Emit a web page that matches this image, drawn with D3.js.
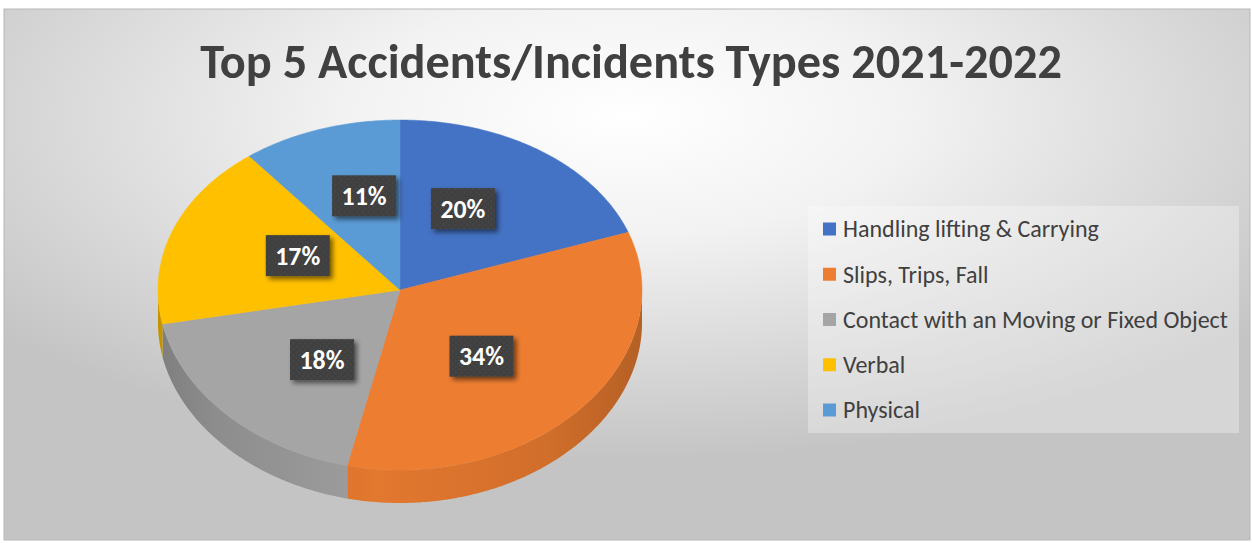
<!DOCTYPE html>
<html>
<head>
<meta charset="utf-8">
<script src="https://cdn.jsdelivr.net/npm/d3@7"></script>
<style>
  html, body { margin: 0; padding: 0; background: #fff; }
</style>
</head>
<body>
<svg id="chart" width="1252" height="543"></svg>
<script>
const title = "Top 5 Accidents/Incidents Types 2021-2022";
const categories = [
  "Handling lifting & Carrying",
  "Slips, Trips, Fall",
  "Contact with an Moving or Fixed Object",
  "Verbal",
  "Physical",
];
// shares in percent, estimated from the slice boundaries
const values = [19.6, 33.9, 18.4, 17.4, 10.7];
const colors = ["#4472c4", "#ed7d31", "#a5a5a5", "#ffc000", "#5b9bd5"];

const font = "Carlito, Lato, 'Open Sans', sans-serif";

const svg = d3.select("#chart");
const defs = svg.append("defs");

// background gradient
const bg = defs.append("radialGradient")
  .attr("id", "bg")
  .attr("cx", 0.5).attr("cy", 0.2).attr("r", 0.65);
bg.append("stop").attr("offset", 0).attr("stop-color", "#ffffff");
bg.append("stop").attr("offset", 0.35).attr("stop-color", "#f2f2f2");
bg.append("stop").attr("offset", 1).attr("stop-color", "#c4c4c4");

svg.append("rect")
  .attr("x", 4).attr("y", 9)
  .attr("width", 1246).attr("height", 531)
  .attr("fill", "url(#bg)")
  .attr("stroke", "#b8b8b8")
  .attr("stroke-width", 1);

// title
const titleText = svg.append("text")
  .attr("x", 631)
  .attr("y", 78)
  .attr("text-anchor", "middle")
  .attr("font-family", font)
  .attr("font-weight", "bold")
  .attr("font-size", 43)
  .attr("fill", "#404040")
  .text(title);
{
  const w = titleText.node().getComputedTextLength();
  titleText.attr("font-size", 43 * 862 / w);
}

// pie geometry (tilted disc, slight perspective in y)
const cx = 400, cy = 290, rx = 242, ry = 175, bulge = 5, depth = 33;
const proj = (u, v, dy = 0) => [cx + rx * u, cy + ry * v + bulge * v * v + dy];
const pt = (a, dy = 0) => proj(Math.sin(a), -Math.cos(a), dy);
const rim = (a0, a1, dy = 0) => {
  const n = Math.max(2, Math.ceil((a1 - a0) / 0.01));
  return d3.range(n + 1).map((k) => pt(a0 + (a1 - a0) * k / n, dy));
};
const line = d3.line();

const arcs = d3.pie().sort(null).value((d) => d)(values);

// side wall gradients
colors.forEach((c, i) => {
  const g = defs.append("linearGradient")
    .attr("id", "side" + i)
    .attr("gradientUnits", "userSpaceOnUse")
    .attr("x1", cx - rx).attr("x2", cx + rx)
    .attr("y1", 0).attr("y2", 0);
  const base = d3.color(c);
  g.append("stop").attr("offset", 0).attr("stop-color", base.darker(0.75));
  g.append("stop").attr("offset", 0.12).attr("stop-color", base.darker(0.45));
  g.append("stop").attr("offset", 0.45).attr("stop-color", base.darker(0.12));
  g.append("stop").attr("offset", 0.8).attr("stop-color", base.darker(0.35));
  g.append("stop").attr("offset", 1).attr("stop-color", base.darker(0.75));
});

const pieLayer = svg.append("g").attr("id", "pie");

// side walls (front half only)
arcs.forEach((d, i) => {
  const a0 = Math.max(d.startAngle, Math.PI / 2);
  const a1 = Math.min(d.endAngle, 3 * Math.PI / 2);
  if (a1 <= a0) return;
  const pts = rim(a0, a1).concat(rim(a0, a1, depth).reverse());
  pieLayer.append("path")
    .attr("d", line(pts) + "Z")
    .attr("fill", `url(#side${i})`);
});

// top faces
arcs.forEach((d, i) => {
  const pts = [proj(0, 0)].concat(rim(d.startAngle, d.endAngle));
  pieLayer.append("path")
    .attr("d", line(pts) + "Z")
    .attr("fill", colors[i])
    .attr("stroke", colors[i])
    .attr("stroke-width", 0.5);
});

// data labels
const pat = defs.append("pattern")
  .attr("id", "dots")
  .attr("patternUnits", "userSpaceOnUse")
  .attr("width", 6).attr("height", 6);
pat.append("rect").attr("width", 6).attr("height", 6).attr("fill", "#3f3f3f");
pat.append("circle").attr("cx", 1.5).attr("cy", 1.5).attr("r", 0.9).attr("fill", "#4b4b4b");
pat.append("circle").attr("cx", 4.5).attr("cy", 4.5).attr("r", 0.9).attr("fill", "#4b4b4b");

const shadow = defs.append("filter")
  .attr("id", "shadow")
  .attr("x", "-30%").attr("y", "-30%")
  .attr("width", "170%").attr("height", "170%");
shadow.append("feGaussianBlur").attr("in", "SourceAlpha").attr("stdDeviation", 2.5).attr("result", "b");
shadow.append("feOffset").attr("in", "b").attr("dx", 3).attr("dy", 3).attr("result", "o");
shadow.append("feComponentTransfer").attr("in", "o").attr("result", "s")
  .append("feFuncA").attr("type", "linear").attr("slope", 0.55);
const merge = shadow.append("feMerge");
merge.append("feMergeNode").attr("in", "s");
merge.append("feMergeNode").attr("in", "SourceGraphic");

const total = d3.sum(values);
const kx = 0.45, ky = 0.57;
const labelLayer = svg.append("g").attr("id", "labels");
const labelTexts = [];
arcs.forEach((d) => {
  const m = (d.startAngle + d.endAngle) / 2;
  const lx = cx + rx * kx * Math.sin(m);
  const ly = cy - ry * ky * Math.cos(m);
  const g = labelLayer.append("g").attr("transform", `translate(${lx},${ly})`);
  g.append("rect")
    .attr("x", -32).attr("y", -20.5)
    .attr("width", 64).attr("height", 41)
    .attr("fill", "url(#dots)")
    .attr("filter", "url(#shadow)");
  labelTexts.push(g.append("text")
    .attr("text-anchor", "middle")
    .attr("dy", "0.36em")
    .attr("font-family", font)
    .attr("font-weight", "bold")
    .attr("font-size", 22)
    .attr("fill", "#ffffff")
    .text(Math.round(d.data / total * 100) + "%"));
});
{
  const w = labelTexts[0].node().getComputedTextLength();
  labelTexts.forEach((t) => t.attr("font-size", 22 * 45 / w));
}

// legend
const legend = svg.append("g").attr("id", "legend");
legend.append("rect")
  .attr("x", 808).attr("y", 206)
  .attr("width", 431).attr("height", 227)
  .attr("fill", "#ffffff")
  .attr("fill-opacity", 0.3);

const rowY = d3.scalePoint().domain(categories).range([229, 410]);
const rows = legend.selectAll("g.row")
  .data(categories)
  .join("g")
  .attr("class", "row")
  .attr("transform", (d) => `translate(823,${rowY(d)})`);
rows.append("rect")
  .attr("x", 0).attr("y", -6.5)
  .attr("width", 13).attr("height", 13)
  .attr("fill", (d, i) => colors[i]);
const legendText = rows.append("text")
  .attr("x", 20)
  .attr("dy", "0.35em")
  .attr("font-family", font)
  .attr("font-size", 20)
  .attr("fill", "#404040")
  .text((d) => d);
{
  const w = legendText.nodes()[2].getComputedTextLength();
  legendText.attr("font-size", 20 * 385 / w);
}
</script>
</body>
</html>
